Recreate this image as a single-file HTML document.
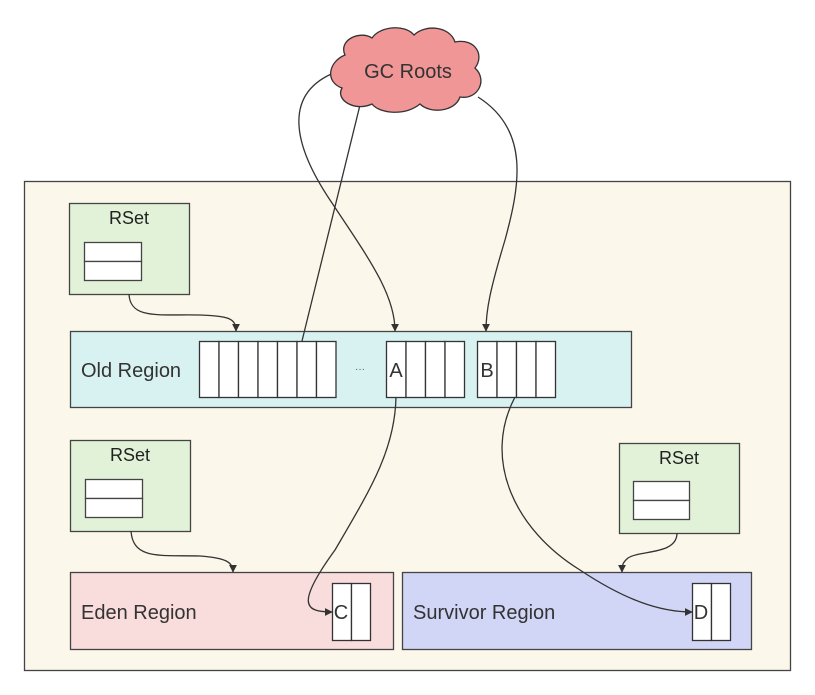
<!DOCTYPE html>
<html><head><meta charset="utf-8"><style>
html,body{margin:0;padding:0;background:#fff;}
svg{display:block;font-family:"Liberation Sans","Noto Sans CJK SC",sans-serif;}
</style></head><body>
<svg width="815" height="695" viewBox="0 0 815 695" xmlns="http://www.w3.org/2000/svg">
<defs>
<marker id="ar" viewBox="0 0 10 10" refX="9" refY="5" markerWidth="8" markerHeight="8" orient="auto-start-reverse" markerUnits="userSpaceOnUse">
<path d="M0,0 L10,5 L0,10 z" fill="#333"/></marker>
</defs>
<rect x="24.5" y="181.5" width="766" height="489" fill="#fbf7ea" stroke="#444" stroke-width="1.3"/>

<!-- RSet boxes -->
<g stroke="#444" stroke-width="1.3">
<rect x="69.5" y="203.5" width="120" height="91" fill="#e2f2d8"/>
<rect x="84.5" y="242.5" width="57" height="19" fill="#fff"/>
<rect x="84.5" y="261.5" width="57" height="19" fill="#fff"/>
<rect x="70.5" y="440.5" width="120" height="91" fill="#e2f2d8"/>
<rect x="85.5" y="479.5" width="57" height="19" fill="#fff"/>
<rect x="85.5" y="498.5" width="57" height="19" fill="#fff"/>
<rect x="619.5" y="443.5" width="120" height="90" fill="#e2f2d8"/>
<rect x="633.5" y="481.5" width="56" height="19" fill="#fff"/>
<rect x="633.5" y="500.5" width="56" height="19" fill="#fff"/>
</g>
<g font-size="18" fill="#222" text-anchor="middle">
<text x="129" y="224">RSet</text>
<text x="130" y="461">RSet</text>
<text x="679" y="464">RSet</text>
</g>

<!-- Old region -->
<rect x="70.5" y="331.5" width="561" height="76" fill="#d8f1f1" stroke="#444" stroke-width="1.3"/>
<text x="81" y="377" font-size="20" fill="#333">Old Region</text>
<g stroke="#333" stroke-width="1.3" fill="#fff">
<rect x="199.5" y="341.5" width="19.5" height="56"/><rect x="219" y="341.5" width="19.5" height="56"/>
<rect x="238.5" y="341.5" width="19.5" height="56"/><rect x="258" y="341.5" width="19.5" height="56"/>
<rect x="277.5" y="341.5" width="19.5" height="56"/><rect x="297" y="341.5" width="19.5" height="56"/>
<rect x="316.5" y="341.5" width="19.5" height="56"/>
<rect x="386.5" y="341.5" width="19.5" height="56"/><rect x="406" y="341.5" width="19.5" height="56"/>
<rect x="425.5" y="341.5" width="19.5" height="56"/><rect x="445" y="341.5" width="19.5" height="56"/>
<rect x="477.5" y="341.5" width="19.5" height="56"/><rect x="497" y="341.5" width="19.5" height="56"/>
<rect x="516.5" y="341.5" width="19.5" height="56"/><rect x="536" y="341.5" width="19.5" height="56"/>
</g>
<text x="360" y="372" font-size="10" fill="#555" text-anchor="middle">···</text>
<text x="396" y="377" font-size="20" fill="#333" text-anchor="middle">A</text>
<text x="487" y="377" font-size="20" fill="#333" text-anchor="middle">B</text>

<!-- Eden / Survivor -->
<rect x="70.5" y="572.5" width="323" height="77" fill="#f9dcdc" stroke="#444" stroke-width="1.3"/>
<text x="81" y="619" font-size="20" fill="#333">Eden Region</text>
<rect x="402.5" y="572.5" width="349" height="77" fill="#d2d6f6" stroke="#444" stroke-width="1.3"/>
<text x="413" y="619" font-size="20" fill="#333">Survivor Region</text>
<g stroke="#333" stroke-width="1.3" fill="#fff">
<rect x="332.5" y="583.5" width="19" height="57"/><rect x="351.5" y="583.5" width="19" height="57"/>
<rect x="692.5" y="583.5" width="19" height="57"/><rect x="711.5" y="583.5" width="19" height="57"/>
</g>
<text x="341" y="619" font-size="20" fill="#333" text-anchor="middle">C</text>
<text x="701" y="619" font-size="20" fill="#333" text-anchor="middle">D</text>

<!-- connectors -->
<g fill="none" stroke="#333" stroke-width="1.3">
<path d="M360,105 L302,341"/>
<path d="M336,72 C285,92 290,140 330,200 C370,260 395,295 395,331" marker-end="url(#ar)"/>
<path d="M478,97 C530,130 520,185 505,240 C490,290 486,310 486,331" marker-end="url(#ar)"/>
<path d="M129,294 C130,320 160,314 200,315 C228,316 236,318 236,331" marker-end="url(#ar)"/>
<path d="M396,397 C395,450 370,490 335,550 C295,605 305,612 332,612" marker-end="url(#ar)"/>
<path d="M515,397 C482,460 515,530 580,570 C625,600 660,612 692,612" marker-end="url(#ar)"/>
<path d="M131,531 C133,560 160,555 200,556 C226,558 233,562 233,572" marker-end="url(#ar)"/>
<path d="M677,533 C677,555 640,550 628,558 C622,563 622,566 622,572" marker-end="url(#ar)"/>
</g>

<!-- cloud -->
<path d="M345,55 C338,40 360,30 372,38 C380,26 405,24 414,35 C425,24 450,26 455,42 C475,38 485,55 475,68 C488,80 478,100 460,97 C455,112 430,114 420,104 C405,116 380,114 372,104 C355,112 335,100 342,88 C325,82 328,62 345,55 Z" fill="#f09696" stroke="#333" stroke-width="1.3"/>
<text x="408" y="78" font-size="20" fill="#333" text-anchor="middle">GC Roots</text>
</svg>
</body></html>
